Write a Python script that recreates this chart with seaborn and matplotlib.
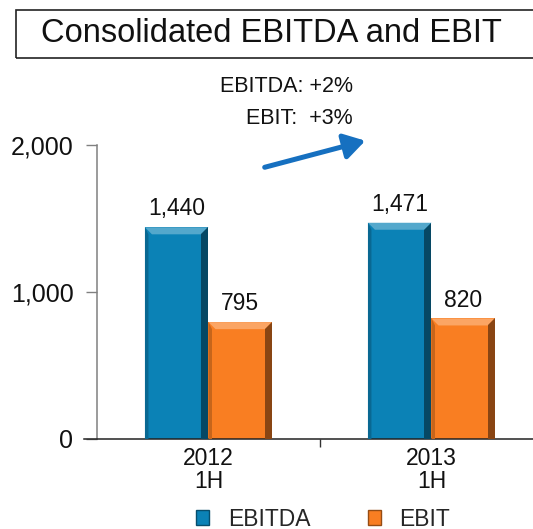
import numpy as np
import pandas as pd
import seaborn as sns
import matplotlib
matplotlib.use("Agg")
import matplotlib.pyplot as plt
from matplotlib.patches import Rectangle, Polygon, FancyArrowPatch
from matplotlib.colors import to_rgb

# Half-year results (EUR m)
periods = ["2012\n1H", "2013\n1H"]
metrics = ["EBITDA", "EBIT"]
ebitda = [1440, 1471]
ebit = [795, 820]
growth_labels = ["EBITDA: +2%", "EBIT:  +3%"]
yticks = [0, 1000, 2000]

colors = {"EBITDA": "#0B82B6", "EBIT": "#F97E22"}

df = pd.DataFrame({
    "period": periods * 2,
    "metric": [metrics[0]] * len(periods) + [metrics[1]] * len(periods),
    "value": ebitda + ebit,
})

sns.set_theme(style="white")
plt.rcParams["font.family"] = ["Liberation Sans", "DejaVu Sans"]

W, H = 533, 529
fig = plt.figure(figsize=(W / 100, H / 100), dpi=100)
ax = fig.add_axes([97 / W, 1 - 439 / H, 446 / W, 294 / H])

sns.barplot(data=df, x="period", y="value", hue="metric", order=periods,
            hue_order=metrics, palette=colors, width=0.57, ax=ax,
            saturation=1, legend=False, edgecolor="none")

ax.set_xlim(-0.5, 1.5)
ax.set_ylim(0, 2000)
ax.set_xlabel("")
ax.set_ylabel("")
ax.set_yticks(yticks)
ax.set_yticklabels([f"{v:,}" for v in yticks], fontsize=18, color="#111111")
ax.tick_params(axis="y", direction="out", length=8, width=1, color="#808080",
               pad=9, left=True)
ax.set_xticks([0, 1])
ax.set_xticklabels(periods, fontsize=16.5, color="#111111", linespacing=1.0)
ax.tick_params(axis="x", length=0, pad=6)
# boundary tick between the two periods
ax.set_xticks([0.5], minor=True)
ax.tick_params(axis="x", which="minor", direction="out", length=6, width=1,
               color="#333333", bottom=True)

for side in ["top", "right"]:
    ax.spines[side].set_visible(False)
ax.spines["left"].set_color("#808080")
ax.spines["left"].set_linewidth(1.1)
ax.spines["bottom"].set_color("#222222")
ax.spines["bottom"].set_linewidth(1.1)
ax.spines["bottom"].set_bounds(-0.56, 1.5)

# Bevelled look for every bar
fig.canvas.draw()
inv = ax.transData.inverted()
p0 = inv.transform((0, 0))
p1 = inv.transform((7, 7))
dx, dy = p1[0] - p0[0], p1[1] - p0[1]


def shade(c, f):
    r = np.array(to_rgb(c))
    return tuple(np.clip(r * f, 0, 1)) if f < 1 else tuple(r + (1 - r) * (f - 1))


for cont, metric in zip(ax.containers, metrics):
    base = colors[metric]
    for bar in cont:
        x, y, w, h = bar.get_x(), bar.get_y(), bar.get_width(), bar.get_height()
        top = [(x, y + h), (x + w, y + h), (x + w - dx, y + h - dy), (x + dx, y + h - dy)]
        right = [(x + w, y + h), (x + w, y), (x + w - dx, y), (x + w - dx, y + h - dy)]
        left = [(x, y), (x, y + h), (x + dx * 0.5, y + h - dy), (x + dx * 0.5, y)]
        ax.add_patch(Polygon(top, closed=True, color=shade(base, 1.3), lw=0, zorder=3))
        ax.add_patch(Polygon(right, closed=True, color=shade(base, 0.55), lw=0, zorder=3))
        ax.add_patch(Polygon(left, closed=True, color=shade(base, 0.8), lw=0, zorder=3))
    ax.bar_label(cont, labels=[f"{v:,.0f}" for v in cont.datavalues],
                 padding=5, fontsize=16.5, color="#111111")

# Legend
handles = [Rectangle((0, 0), 1, 1, facecolor=colors[m], edgecolor=shade(colors[m], 0.6), lw=1)
           for m in metrics]
fig.legend(handles, metrics, loc="center", bbox_to_anchor=(323 / W, 1 - 519 / H),
           ncol=2, frameon=False, fontsize=16.5, handlelength=0.6, handleheight=0.6,
           handletextpad=0.8, columnspacing=2.5)

# Title box
fig.patches.append(Rectangle((16 / W, 1 - 58 / H), 600 / W, 48 / H,
                             transform=fig.transFigure, fill=False,
                             edgecolor="#222222", lw=1.2))
fig.text(271 / W, 1 - 34 / H, "Consolidated EBITDA and EBIT", ha="center",
         va="center", fontsize=23.5, color="#111111")

# Growth annotation with arrow
fig.text(353 / W, 1 - 87 / H, growth_labels[0], ha="right", va="center",
         fontsize=15.5, color="#111111")
fig.text(353 / W, 1 - 118 / H, growth_labels[1], ha="right", va="center",
         fontsize=15.5, color="#111111")
arrow = FancyArrowPatch((262 / W, 1 - 168 / H), (368 / W, 1 - 140 / H),
                        transform=fig.transFigure,
                        arrowstyle="-|>,head_length=0.9,head_width=0.55",
                        mutation_scale=14, color="#1670C0", lw=3.6)
fig.patches.append(arrow)

fig.savefig("out.png", dpi=100)
